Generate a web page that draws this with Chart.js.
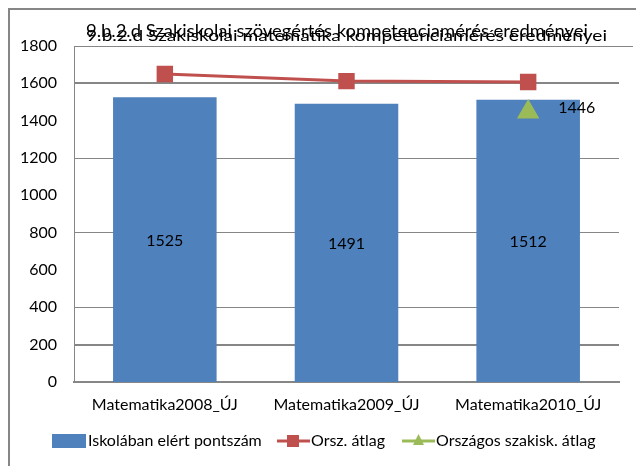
<!DOCTYPE html>
<html>
<head>
<meta charset="utf-8">
<script src="https://cdn.jsdelivr.net/npm/chart.js@4"></script>
<style>
  html, body { margin: 0; padding: 0; background: #fff; }
  #wrap { width: 636px; height: 466px; position: relative; }
</style>
</head>
<body>
<div id="wrap"><canvas id="chart" width="636" height="466"></canvas></div>
<script>
// Chart data
const categories = ['Matematika2008_ÚJ', 'Matematika2009_ÚJ', 'Matematika2010_ÚJ'];
const schoolScores = [1525, 1491, 1512];
const nationalAvg = [1650, 1612, 1607];
const vocationalAvg = [null, null, 1446];
const yTicks = [0, 200, 400, 600, 800, 1000, 1200, 1400, 1600, 1800];
const titleTop = '9.b.2.d Szakiskolai szövegértés kompetenciamérés eredményei';
const titleBottom = '9.b.2.d Szakiskolai matematika kompetenciamérés eredményei';

const BLUE = '#4F81BD';
const RED = '#C0504D';
const GREEN = '#9BBB59';
const GRID = '#868686';
const FONT = 'Lato';

// gridlines that show up in the picture
const gridStyle = { 1600: 2, 1200: 1, 800: 1, 400: 1, 200: 2 };

// frame, titles, top border, value labels, legend
const decorations = {
  id: 'decorations',
  afterDraw(chart) {
    const ctx = chart.ctx;
    const area = chart.chartArea;
    ctx.save();

    // outer frame (only left/top visible)
    ctx.strokeStyle = '#868686';
    ctx.lineWidth = 2;
    ctx.beginPath();
    ctx.moveTo(9, 470);
    ctx.lineTo(9, 9);
    ctx.lineTo(640, 9);
    ctx.stroke();

    // top border of plot area
    ctx.lineWidth = 1;
    ctx.beginPath();
    ctx.moveTo(area.left, area.top + 0.5);
    ctx.lineTo(633, area.top + 0.5);
    ctx.stroke();

    // overlapping titles
    ctx.fillStyle = '#000';
    ctx.textBaseline = 'alphabetic';
    ctx.textAlign = 'left';
    const drawStretched = (text, size, x, y, endX) => {
      ctx.font = size + 'px ' + FONT;
      const w = ctx.measureText(text).width;
      ctx.save();
      ctx.translate(x, y);
      ctx.scale((endX - x) / w, 1);
      ctx.fillText(text, 0, 0);
      ctx.restore();
    };
    drawStretched(titleBottom, 15, 86, 41, 607);
    drawStretched(titleTop, 17, 86, 37, 588);

    // bar value labels
    const barMeta = chart.getDatasetMeta(0);
    ctx.font = '16px ' + FONT;
    ctx.textAlign = 'center';
    ctx.textBaseline = 'middle';
    ctx.fillStyle = '#000';
    barMeta.data.forEach((bar, i) => {
      ctx.fillText(String(schoolScores[i]), bar.x, (bar.y + bar.base) / 2 + 1);
    });

    // green point label
    const greenMeta = chart.getDatasetMeta(2);
    greenMeta.data.forEach((pt, i) => {
      if (vocationalAvg[i] == null) return;
      ctx.textAlign = 'left';
      ctx.fillText(String(vocationalAvg[i]), pt.x + 30, pt.y - 4);
    });

    // legend
    const legendY = 441;
    ctx.textAlign = 'left';
    ctx.textBaseline = 'middle';
    ctx.font = '16px ' + FONT;
    ctx.fillStyle = BLUE;
    ctx.fillRect(52, legendY - 7, 34, 14);
    ctx.fillStyle = '#000';
    ctx.fillText(chart.data.datasets[0].label, 88, legendY);

    ctx.strokeStyle = RED;
    ctx.lineWidth = 3;
    ctx.beginPath();
    ctx.moveTo(277, legendY);
    ctx.lineTo(310, legendY);
    ctx.stroke();
    ctx.fillStyle = RED;
    ctx.fillRect(287, legendY - 6, 12, 12);
    ctx.fillStyle = '#000';
    ctx.fillText(chart.data.datasets[1].label, 311, legendY);

    ctx.strokeStyle = GREEN;
    ctx.beginPath();
    ctx.moveTo(402, legendY);
    ctx.lineTo(435, legendY);
    ctx.stroke();
    ctx.fillStyle = GREEN;
    ctx.beginPath();
    ctx.moveTo(418.5, legendY - 7);
    ctx.lineTo(424, legendY + 4);
    ctx.lineTo(413, legendY + 4);
    ctx.closePath();
    ctx.fill();
    ctx.fillStyle = '#000';
    ctx.fillText(chart.data.datasets[2].label, 436, legendY);

    ctx.restore();
  }
};

new Chart(document.getElementById('chart'), {
  type: 'bar',
  data: {
    labels: categories,
    datasets: [
      {
        type: 'bar',
        label: 'Iskolában elért pontszám',
        data: schoolScores,
        backgroundColor: BLUE,
        borderWidth: 0,
        barPercentage: 0.57,
        categoryPercentage: 1,
        order: 3
      },
      {
        type: 'line',
        label: 'Orsz. átlag',
        data: nationalAvg,
        borderColor: RED,
        backgroundColor: RED,
        borderWidth: 3,
        pointStyle: 'rect',
        pointRadius: 9.5,
        pointHoverRadius: 9.5,
        tension: 0,
        order: 1
      },
      {
        type: 'line',
        label: 'Országos szakisk. átlag',
        data: vocationalAvg,
        borderColor: GREEN,
        backgroundColor: GREEN,
        borderWidth: 3,
        pointStyle: 'triangle',
        pointRadius: 10,
        pointHoverRadius: 10,
        order: 2
      }
    ]
  },
  options: {
    responsive: false,
    animation: false,
    events: [],
    layout: { padding: { left: 0, right: 17, top: 46, bottom: 40 } },
    plugins: {
      legend: { display: false },
      title: { display: false },
      tooltip: { enabled: false }
    },
    scales: {
      x: {
        afterFit(scale) { scale.height = 44; },
        grid: { display: false, drawTicks: false },
        border: { color: GRID, width: 2 },
        ticks: {
          color: '#000',
          font: { family: FONT, size: 16 },
          padding: 13,
          maxRotation: 0
        }
      },
      y: {
        min: 0,
        max: 1800,
        afterFit(scale) { scale.width = 74; },
        afterBuildTicks(scale) { scale.ticks = yTicks.map(v => ({ value: v })); },
        grid: {
          drawTicks: false,
          color: ctx => (gridStyle[ctx.tick && ctx.tick.value] ? GRID : 'rgba(0,0,0,0)'),
          lineWidth: ctx => gridStyle[ctx.tick && ctx.tick.value] || 0
        },
        border: { color: GRID, width: 1 },
        ticks: {
          color: '#000',
          font: { family: FONT, size: 16 },
          padding: 17,
          callback: v => String(v)
        }
      }
    }
  },
  plugins: [decorations]
});
</script>
</body>
</html>
